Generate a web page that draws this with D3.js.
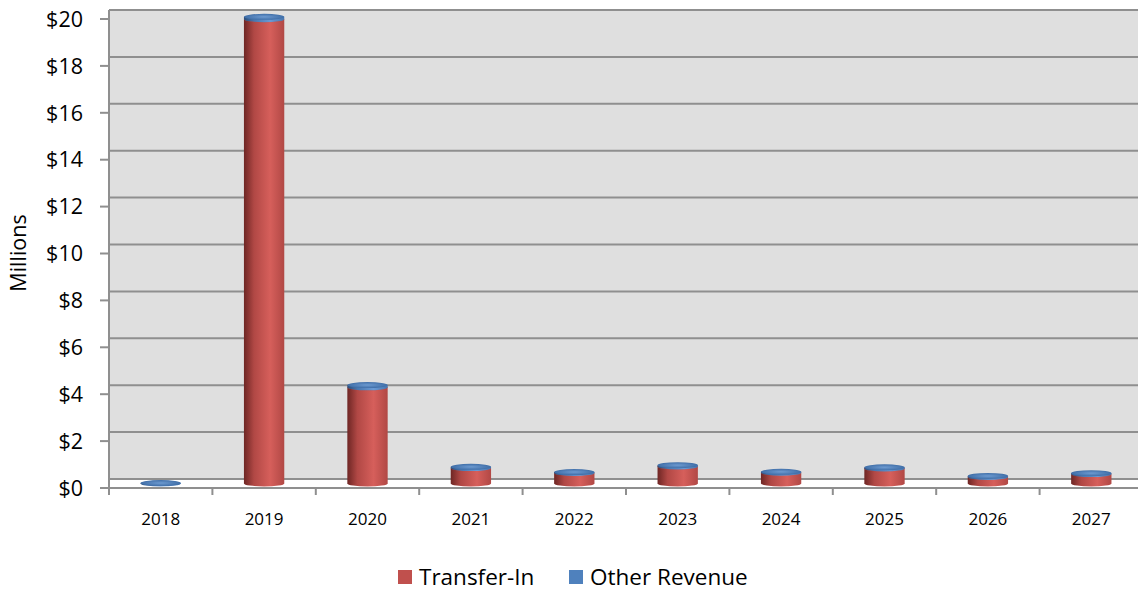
<!DOCTYPE html>
<html>
<head>
<meta charset="utf-8">
<script src="https://cdn.jsdelivr.net/npm/d3@7"></script>
<style>
  body { margin: 0; background: #fff; }
  svg { display: block; font-family: "Open Sans", "Noto Sans", sans-serif; }
</style>
</head>
<body>
<svg id="chart" width="1138" height="590"></svg>
<script>
// data (millions)
var years = ["2018", "2019", "2020", "2021", "2022", "2023", "2024", "2025", "2026", "2027"]
var transferIn = [0, 19.8, 4.1, 0.66, 0.45, 0.73, 0.46, 0.64, 0.28, 0.40]
var otherRevenue = [0.02, 0.1, 0.1, 0.05, 0.04, 0.05, 0.04, 0.05, 0.04, 0.04]
var yTicks = [0, 2, 4, 6, 8, 10, 12, 14, 16, 18, 20]
var seriesNames = ["Transfer-In", "Other Revenue"]
var seriesColors = ["#c0504d", "#4f81bd"]

var svg = d3.select("#chart")
var depth = 9   // back wall sits this many px above the front edge
var left = 109, right = 1143

var x = d3.scaleBand().domain(years).range([left, right]).paddingInner(0).paddingOuter(0)
var y = d3.scaleLinear().domain([0, 20]).range([488, 19])

var defs = svg.append("defs")

function cylGradient(id, dark, mid, light) {
    var g = defs.append("linearGradient").attr("id", id)
        .attr("x1", "0%").attr("x2", "100%").attr("y1", "0%").attr("y2", "0%")
    g.append("stop").attr("offset", "0%").attr("stop-color", dark)
    g.append("stop").attr("offset", "25%").attr("stop-color", mid)
    g.append("stop").attr("offset", "65%").attr("stop-color", light)
    g.append("stop").attr("offset", "100%").attr("stop-color", mid)
}
cylGradient("redCyl", "#6e2624", "#b14845", "#d65f5b")
cylGradient("blueCyl", "#2c4d78", "#4876ae", "#6a9ad4")

var capRed = defs.append("radialGradient").attr("id", "redCap")
capRed.append("stop").attr("offset", "0%").attr("stop-color", "#d86a66")
capRed.append("stop").attr("offset", "100%").attr("stop-color", "#b64c48")
var capBlue = defs.append("radialGradient").attr("id", "blueCap")
capBlue.append("stop").attr("offset", "0%").attr("stop-color", "#6d9ad0")
capBlue.append("stop").attr("offset", "100%").attr("stop-color", "#3f6ea8")

defs.append("clipPath").attr("id", "clip")
    .append("rect").attr("x", 0).attr("y", 0).attr("width", 1138).attr("height", 590)

// back wall
svg.append("rect")
    .attr("x", left).attr("y", y(20) - depth - 1)
    .attr("width", right - left).attr("height", y(0) - y(20) + 1)
    .attr("fill", "#dfdfdf")

// floor
svg.append("rect")
    .attr("x", left).attr("y", y(0) - depth)
    .attr("width", right - left).attr("height", depth)
    .attr("fill", "#ffffff")

// gridlines on the back wall
svg.selectAll(".grid")
    .data(yTicks)
    .enter()
    .append("line")
    .attr("class", "grid")
    .attr("x1", left).attr("x2", right)
    .attr("y1", function(d) { return y(d) - depth })
    .attr("y2", function(d) { return y(d) - depth })
    .attr("stroke", "#8f8f8f")
    .attr("stroke-width", 2)

// left edge of plot
svg.append("line")
    .attr("x1", left).attr("x2", left)
    .attr("y1", y(20) - depth).attr("y2", y(0))
    .attr("stroke", "#8f8f8f").attr("stroke-width", 2)

// front floor edge / x axis
svg.append("line")
    .attr("x1", left - 9).attr("x2", right)
    .attr("y1", y(0)).attr("y2", y(0))
    .attr("stroke", "#8f8f8f").attr("stroke-width", 2)

// y ticks + labels
svg.selectAll(".ytick")
    .data(yTicks)
    .enter()
    .append("line")
    .attr("class", "ytick")
    .attr("x1", left - 9).attr("x2", left)
    .attr("y1", function(d) { return y(d) }).attr("y2", function(d) { return y(d) })
    .attr("stroke", "#8f8f8f").attr("stroke-width", 2)

svg.selectAll(".ylab")
    .data(yTicks)
    .enter()
    .append("text")
    .attr("class", "ylab")
    .attr("x", 83)
    .attr("y", function(d) { return y(d) })
    .attr("dy", "0.36em")
    .attr("text-anchor", "end")
    .attr("font-size", 21.5)
    .attr("fill", "#000")
    .text(function(d) { return "$" + d })

// x ticks at category boundaries
var bounds = years.map(function(d) { return x(d) }).concat([right])
svg.selectAll(".xtick")
    .data(bounds)
    .enter()
    .append("line")
    .attr("class", "xtick")
    .attr("x1", function(d) { return d }).attr("x2", function(d) { return d })
    .attr("y1", y(0)).attr("y2", y(0) + 7)
    .attr("stroke", "#8f8f8f").attr("stroke-width", 2)

svg.selectAll(".xlab")
    .data(years)
    .enter()
    .append("text")
    .attr("class", "xlab")
    .attr("x", function(d) { return x(d) + x.bandwidth() / 2 })
    .attr("y", 525)
    .attr("text-anchor", "middle")
    .attr("font-size", 17)
    .attr("fill", "#000")
    .text(function(d) { return d })

// axis title
svg.append("text")
    .attr("transform", "translate(26,253) rotate(-90)")
    .attr("text-anchor", "middle")
    .attr("font-size", 21.5)
    .attr("fill", "#000")
    .text("Millions")

// cylinders, drawn at mid depth
var mid = depth / 2
var barW = x.bandwidth() * 0.39
var ry = 3

var stacks = years.map(function(d, i) {
    return [
        { year: d, v0: 0, v1: transferIn[i], s: 0 },
        { year: d, v0: transferIn[i], v1: transferIn[i] + otherRevenue[i], s: 1 }
    ]
})

var bars = svg.append("g").attr("clip-path", "url(#clip)")

stacks.forEach(function(stack) {
    stack.forEach(function(seg) {
        if (seg.v1 - seg.v0 <= 0) return
        var cx = x(seg.year) + x.bandwidth() / 2
        var yb = y(seg.v0) - mid
        var yt = y(seg.v1) - mid
        var grad = seg.s == 0 ? "redCyl" : "blueCyl"
        var cap = seg.s == 0 ? "redCap" : "blueCap"
        var g = bars.append("g")
        g.append("ellipse")
            .attr("cx", cx).attr("cy", yb)
            .attr("rx", barW / 2).attr("ry", ry)
            .attr("fill", "url(#" + grad + ")")
        g.append("rect")
            .attr("x", cx - barW / 2).attr("y", yt)
            .attr("width", barW).attr("height", Math.max(0, yb - yt))
            .attr("fill", "url(#" + grad + ")")
        g.append("ellipse")
            .attr("cx", cx).attr("cy", yt)
            .attr("rx", barW / 2).attr("ry", ry)
            .attr("fill", "url(#" + cap + ")")
    })
})

// legend
var legendX = [398, 569]
var lg = svg.selectAll(".legend")
    .data(seriesNames)
    .enter()
    .append("g")
    .attr("class", "legend")
    .attr("transform", function(d, i) { return "translate(" + legendX[i] + ",570)" })

lg.append("rect")
    .attr("width", 14).attr("height", 14)
    .attr("fill", function(d, i) { return seriesColors[i] })

lg.append("text")
    .attr("x", 21).attr("y", 7)
    .attr("dy", "0.36em")
    .attr("font-size", 22.5)
    .attr("fill", "#000")
    .text(function(d) { return d })
</script>
</body>
</html>
